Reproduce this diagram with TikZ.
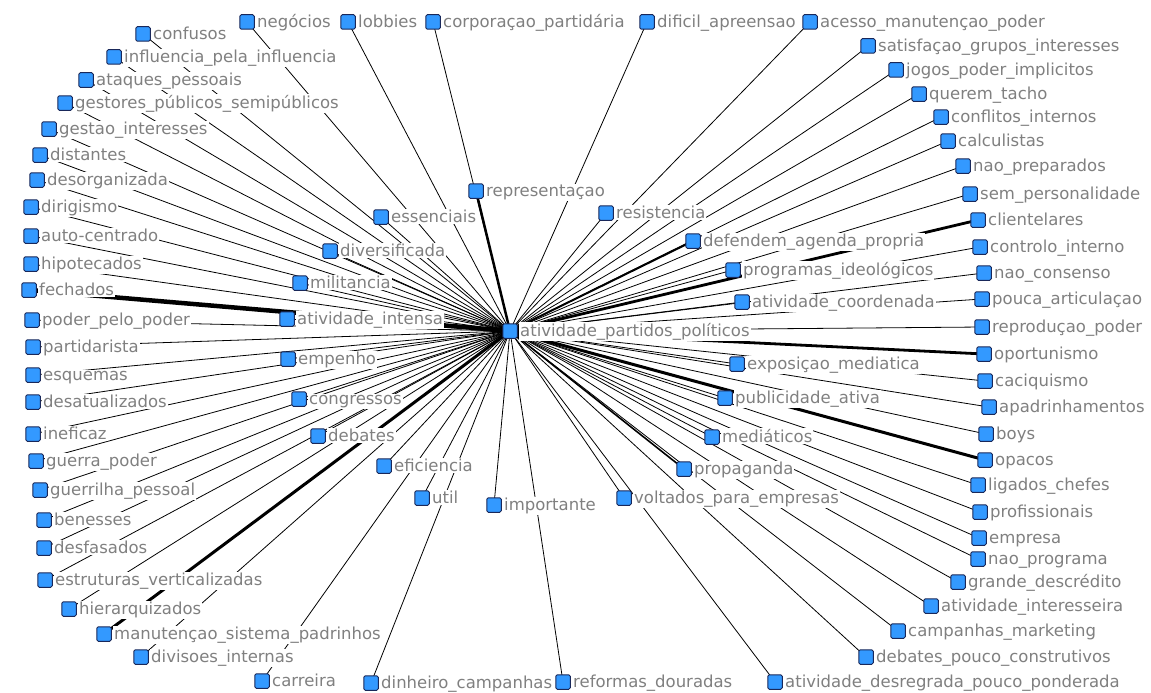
\documentclass[tikz,border=0pt]{standalone}
\usepackage{fontspec}
\setmainfont{DejaVu Sans}
\usetikzlibrary{backgrounds}
\definecolor{nodeblue}{RGB}{51,153,255}
\definecolor{nodeedge}{RGB}{25,40,90}
\definecolor{labelgray}{RGB}{128,128,128}
\tikzset{
  vert/.style={draw=nodeedge, fill=nodeblue, line width=1pt, minimum size=14.5pt,
    inner sep=0pt, rounded corners=1.5pt},
  vlabel/.style={anchor=base west, fill=white, inner sep=1pt, text=labelgray,
    font=\fontsize{16.5}{19}\selectfont},
}
% name / x / y / label / tie width
\def\nodelist{
confusos/143/34/confusos/0.8,
negocios/247/22/negócios/0.8,
lobbies/348/22/lobbies/0.8,
corporacao/433/22/corporaçao\_partidária/0.8,
dificil/647/22/dificil\_apreensao/0.8,
acesso/810/22/acesso\_manutençao\_poder/0.8,
influencia/114/57/influencia\_pela\_influencia/0.8,
satisfacao/868/46/satisfaçao\_grupos\_interesses/0.8,
ataques/86/80/ataques\_pessoais/0.8,
jogos/896/70/jogos\_poder\_implicitos/0.8,
gestores/65/103/gestores\_públicos\_semipúblicos/0.8,
querem/919/94/querem\_tacho/0.8,
conflitos/941/117/conflitos\_internos/0.8,
gestao/49/129/gestao\_interesses/0.8,
calculistas/948/141/calculistas/0.8,
distantes/40/155/distantes/0.8,
naoprep/963/166/nao\_preparados/0.8,
desorg/37/180/desorganizada/0.8,
represent/476/191/representaçao/2.5,
sempers/970/194/sem\_personalidade/0.8,
dirigismo/31/207/dirigismo/0.8,
essenciais/381/217/essenciais/0.8,
resistencia/606/213/resistencia/0.8,
clientelares/978/220/clientelares/2.8,
autocentrado/31/236/auto-centrado/0.8,
defendem/693/241/defendem\_agenda\_propria/2,
controlo/980/247/controlo\_interno/0.8,
diversificada/330/251/diversificada/0.8,
hipotecados/31/264/hipotecados/0.8,
programas/733/270/programas\_ideológicos/0.8,
naoconsenso/984/273/nao\_consenso/0.8,
militancia/300/283/militancia/0.8,
fechados/29/290/fechados/4.5,
coordenada/742/302/atividade\_coordenada/0.8,
pouca/982/299/pouca\_articulaçao/0.8,
poder/32/320/poder\_pelo\_poder/0.8,
intensa/287/319/atividade\_intensa/0.8,
reproducao/982/327/reproduçao\_poder/0.8,
partidarista/33/347/partidarista/0.8,
empenho/288/359/empenho/0.8,
oportunismo/984/354/oportunismo/2.8,
exposicao/737/364/exposiçao\_mediatica/0.8,
esquemas/33/375/esquemas/0.8,
caciquismo/985/381/caciquismo/0.8,
congressos/299/399/congressos/0.8,
publicidade/725/398/publicidade\_ativa/0.8,
desatualizados/33/402/desatualizados/0.8,
apadrinhamentos/989/407/apadrinhamentos/0.8,
ineficaz/33/434/ineficaz/0.8,
debates/318/436/debates/0.8,
mediaticos/712/437/mediáticos/0.8,
boys/986/434/boys/0.8,
guerra/36/461/guerra\_poder/0.8,
eficiencia/384/466/eficiencia/0.8,
propaganda/684/469/propaganda/1.6,
opacos/985/460/opacos/3,
guerrilha/40/490/guerrilha\_pessoal/0.8,
util/422/498/util/0.8,
importante/494/505/importante/0.8,
voltados/624/498/voltados\_para\_empresas/0.8,
ligados/978/485/ligados\_chefes/0.8,
benesses/44/520/benesses/0.8,
profissionais/980/512/profissionais/0.8,
desfasados/44/548/desfasados/0.8,
empresa/979/538/empresa/0.8,
naoprograma/978/559/nao\_programa/0.8,
estruturas/45/580/estruturas\_verticalizadas/0.8,
descredito/958/582/grande\_descrédito/0.8,
hierarquizados/69/609/hierarquizados/0.8,
interesseira/931/606/atividade\_interesseira/0.8,
manutencao/104/634/manutençao\_sistema\_padrinhos/3,
campanhas/898/631/campanhas\_marketing/0.8,
divisoes/141/657/divisoes\_internas/0.8,
debatespouco/866/657/debates\_pouco\_construtivos/0.8,
carreira/262/681/carreira/0.8,
dinheiro/371/683/dinheiro\_campanhas/0.8,
reformas/563/682/reformas\_douradas/0.8,
desregrada/775/682/atividade\_desregrada\_pouco\_ponderada/0.8}
\begin{document}
\begin{tikzpicture}[x=1pt,y=-1pt]
\useasboundingbox (0,0) rectangle (1151,693);
% central actor
\node[vert] (c) at (510,331) {};
\node[vlabel] (c-l) at ([xshift=9pt,yshift=-5.5pt]c.center) {atividade\_partidos\_políticos};
% attribute nodes with their labels
\foreach \n/\x/\y/\t/\w in \nodelist {
  \node[vert] (\n) at (\x,\y) {};
  \node[vlabel] (\n-l) at ([xshift=9pt,yshift=-5.5pt]\n.center) {\t};
}
% ties, kept behind labels and squares
\begin{pgfonlayer}{background}
  \fill[white] (0,0) rectangle (1151,693);
  \foreach \n/\x/\y/\t/\w in \nodelist {
    \draw[line width=\w pt] (c.center) -- (\n.center);
  }
\end{pgfonlayer}
\end{tikzpicture}
\end{document}
